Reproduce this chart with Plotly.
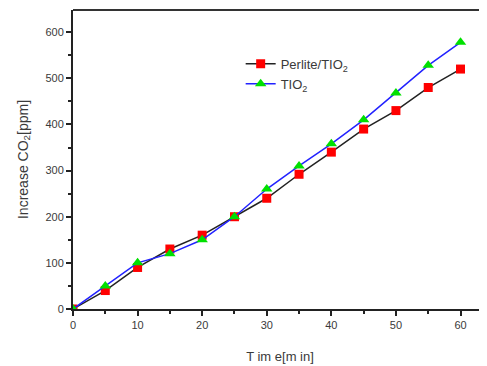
import plotly.graph_objects as go

time_min = [0, 5, 10, 15, 20, 25, 30, 35, 40, 45, 50, 55, 60]
perlite_tio2 = [0, 40, 90, 130, 160, 200, 240, 292, 340, 390, 430, 480, 520]
tio2 = [0, 50, 100, 120, 150, 200, 260, 310, 358, 410, 468, 528, 578]

x_ticks = [0, 10, 20, 30, 40, 50, 60]
y_ticks = [0, 100, 200, 300, 400, 500, 600]

font_family = "Liberation Sans, Arial, sans-serif"
txt = "#3a3a3a"

fig = go.Figure()
fig.add_trace(go.Scatter(
    x=time_min, y=perlite_tio2, mode="lines+markers",
    name="Perlite/TIO<sub>2</sub>",
    line=dict(color="#222222", width=1.5),
    marker=dict(symbol="square", size=9, color="#ff0000", line=dict(width=0)),
))
fig.add_trace(go.Scatter(
    x=time_min, y=tio2, mode="lines+markers",
    name="TIO<sub>2</sub>",
    line=dict(color="#2222ff", width=1.5),
    marker=dict(symbol="triangle-up", size=10, color="#00e000", line=dict(width=0)),
))

fig.update_layout(
    width=479, height=358,
    margin=dict(l=65, r=0, t=2, b=57),
    paper_bgcolor="white", plot_bgcolor="white",
    font=dict(family=font_family, color=txt, size=11),
    showlegend=True,
    legend=dict(
        x=0.405, y=0.87, xanchor="left", yanchor="top",
        bgcolor="rgba(0,0,0,0)", borderwidth=0,
        font=dict(size=13, color=txt, family=font_family),
        tracegroupgap=0, itemwidth=30,
    ),
)
fig.update_xaxes(
    range=[0, 64.1], tickvals=x_ticks, ticks="outside", ticklen=5, tickwidth=2,
    tickcolor="#222", showline=True, linecolor="#222", linewidth=2,
    showgrid=False, zeroline=False,
    minor=dict(tickvals=[5, 15, 25, 35, 45, 55], ticks="outside", ticklen=3, tickwidth=2, tickcolor="#222"),
    tickfont=dict(size=11, color=txt),
    title=dict(text="T im e[m in]", font=dict(size=13, color=txt), standoff=22),
)
fig.update_yaxes(
    range=[0, 648], tickvals=y_ticks, ticks="outside", ticklen=5, tickwidth=2,
    tickcolor="#222", showline=True, linecolor="#222", linewidth=2,
    showgrid=False, zeroline=False, mirror=False,
    minor=dict(tickvals=[50, 150, 250, 350, 450, 550], ticks="outside", ticklen=3, tickwidth=2, tickcolor="#222"),
    tickfont=dict(size=11, color=txt),
    title=dict(text="Increase CO<sub>2</sub>[ppm]", font=dict(size=14, color=txt), standoff=14),
)
# top frame line
fig.add_shape(type="line", xref="paper", yref="paper", x0=0, x1=1, y0=1, y1=1,
              line=dict(color="#333", width=2))

fig.write_html("out.html")
